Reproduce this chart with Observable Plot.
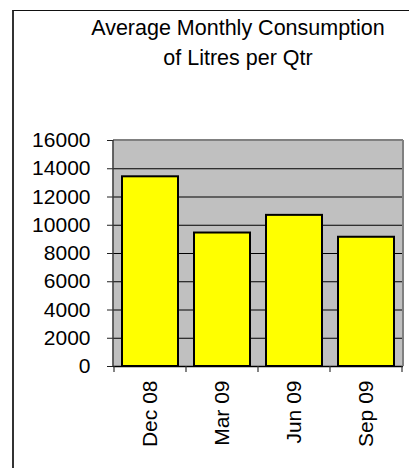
<!DOCTYPE html>
<html>
<head>
<meta charset="utf-8">
<script src="https://cdn.jsdelivr.net/npm/d3@7"></script>
<script src="https://cdn.jsdelivr.net/npm/@observablehq/plot@0.6"></script>
<style>
  html, body { margin: 0; padding: 0; background: #fff; }
  body { width: 409px; height: 468px; overflow: hidden; position: relative; font-family: "Liberation Sans", Arial, sans-serif; }
  #chart { position: absolute; left: 0; top: 0; }
  #title { position: absolute; left: 0; top: 13px; width: 476px; text-align: center; font-size: 21.5px; line-height: 30px; color: #000; }
  #border { position: absolute; left: 12px; top: 10px; width: 420px; height: 480px; border-left: 2px solid #333; border-top: 1px solid #111; pointer-events: none; }
</style>
</head>
<body>
<div id="chart"></div>
<div id="title">Average Monthly Consumption<br>of Litres per Qtr</div>
<div id="border"></div>
<script>
const categories = ["Dec 08", "Mar 09", "Jun 09", "Sep 09"];
const litres = [13430, 9450, 10700, 9150];
const yTicks = [0, 2000, 4000, 6000, 8000, 10000, 12000, 14000, 16000];

const data = categories.map((c, i) => ({quarter: c, value: litres[i]}));

const chart = Plot.plot({
  width: 409,
  height: 468,
  marginLeft: 113,
  marginRight: 6,
  marginTop: 140,
  marginBottom: 102,
  style: {background: "transparent", fontFamily: "'Liberation Sans', Arial, sans-serif", color: "#000"},
  x: {type: "band", domain: categories, paddingInner: 0.22, paddingOuter: 0.11, label: null},
  y: {domain: [0, 16000], label: null},
  marks: [
    Plot.frame({fill: "#c0c0c0", stroke: null}),
    Plot.gridY(yTicks, {stroke: "#000", strokeOpacity: 1, strokeWidth: 1}),
    Plot.barY(data, {x: "quarter", y: "value", fill: "#ffff00", stroke: "#000", strokeWidth: 2}),
    Plot.ruleY([0], {stroke: "#000", strokeWidth: 1.5}),
    Plot.axisY(yTicks, {tickSize: 6, tickPadding: 17, fontSize: 21, tickFormat: d3.format("d"), stroke: "#222", label: null}),
    Plot.axisX({tickSize: 0, tickPadding: 14, tickRotate: -90, fontSize: 21, label: null})
  ]
});
document.getElementById("chart").appendChild(chart);

// plot-area border and category boundary ticks, placed from the plot's own scales
const xs = chart.scale("x");
const ys = chart.scale("y");
const [x0, x1] = xs.range;
const yTop = ys.apply(16000), yBot = ys.apply(0);
const svg = d3.select(chart);
const g = svg.append("g");
g.append("line").attr("x1", x0).attr("x2", x1).attr("y1", yTop).attr("y2", yTop).attr("stroke", "#808080").attr("stroke-width", 2);
g.append("line").attr("x1", x1).attr("x2", x1).attr("y1", yTop).attr("y2", yBot).attr("stroke", "#808080").attr("stroke-width", 2);
g.append("line").attr("x1", x0).attr("x2", x0).attr("y1", yTop).attr("y2", yBot).attr("stroke", "#333").attr("stroke-width", 1.5);
const bounds = categories.map(c => xs.apply(c) - (xs.step - xs.bandwidth) / 2);
bounds.push(bounds[bounds.length - 1] + xs.step);
bounds.forEach(b => {
  g.append("line").attr("x1", b).attr("x2", b).attr("y1", yBot).attr("y2", yBot + 6).attr("stroke", "#333").attr("stroke-width", 1.2);
});
</script>
</body>
</html>
